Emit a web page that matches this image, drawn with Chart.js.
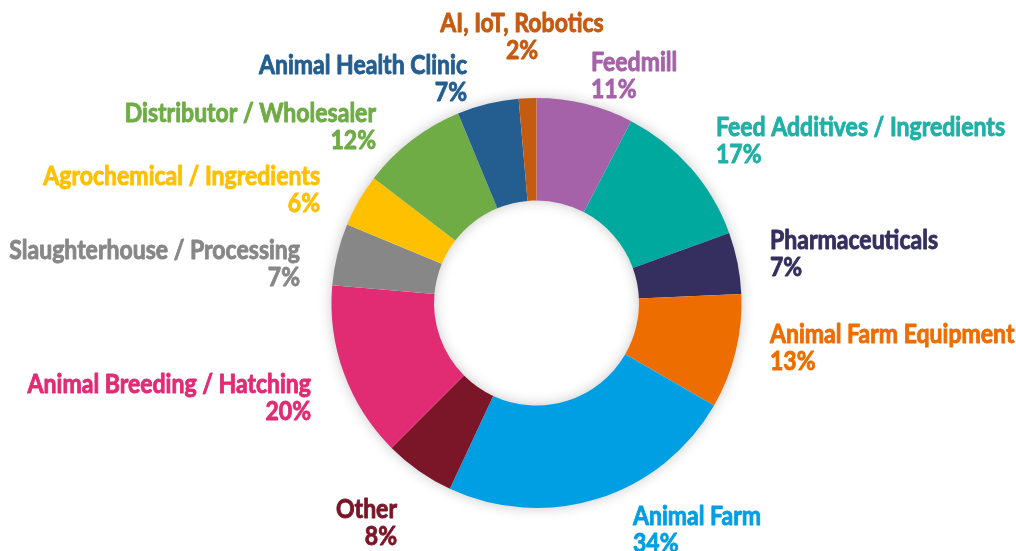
<!DOCTYPE html>
<html>
<head>
<meta charset="utf-8">
<script src="https://cdn.jsdelivr.net/npm/chart.js@4.4.1/dist/chart.umd.min.js"></script>
<style>
  html, body { margin: 0; padding: 0; background: #fff; }
  #wrap { width: 1016px; height: 551px; }
</style>
</head>
<body>
<div id="wrap"><canvas id="donut"></canvas></div>
<script>
// data, clockwise from 12 o'clock
const categories = [
  'Feedmill', 'Feed Additives / Ingredients', 'Pharmaceuticals', 'Animal Farm Equipment',
  'Animal Farm', 'Other', 'Animal Breeding / Hatching', 'Slaughterhouse / Processing',
  'Agrochemical / Ingredients', 'Distributor / Wholesaler', 'Animal Health Clinic', 'AI, IoT, Robotics'
];
const shares = [11, 17, 7, 13, 34, 8, 20, 7, 6, 12, 7, 2];

const sliceColors = ['#a562a8', '#00a99d', '#352f5f', '#ee6d00', '#009fe3', '#7b1528',
                     '#e12b73', '#878787', '#ffc000', '#6fac46', '#245e91', '#c55a11'];
const textColors  = ['#a562a8', '#1fb0a6', '#352f5f', '#ee6d00', '#009fe3', '#7b1528',
                     '#e12b73', '#878787', '#ffc000', '#6fac46', '#245e91', '#c55a11'];

// label anchors relative to the doughnut centre: [dx, dy of first baseline, align]
const labelAnchors = [
  [54.5, -232, 'left'], [179.5, -167, 'left'], [233.5, -54, 'left'], [233.5, 40, 'left'],
  [96.5, 222, 'left'], [-139.5, 215, 'right'], [-225.5, 90, 'right'], [-236.5, -44, 'right'],
  [-216.5, -118, 'right'], [-160.5, -181, 'right'], [-69.5, -229, 'right'], [-14.5, -271, 'center']
];

const FONT = 'bold 26px Lato, "Open Sans", sans-serif';

// soft shadow under the whole ring
const ringShadow = {
  id: 'ringShadow',
  beforeDatasetsDraw(chart) {
    const arc = chart.getDatasetMeta(0).data[0];
    if (!arc) return;
    const { x, y, outerRadius, innerRadius } = arc;
    const ctx = chart.ctx;
    ctx.save();
    ctx.shadowColor = 'rgba(0,0,0,0.25)';
    ctx.shadowBlur = 14;
    ctx.fillStyle = '#fff';
    ctx.beginPath();
    ctx.arc(x, y, outerRadius - 1, 0, Math.PI * 2);
    ctx.arc(x, y, innerRadius + 1, 0, Math.PI * 2, true);
    ctx.fill('evenodd');
    ctx.restore();
  }
};

// labels drawn in a condensed look: the font is squeezed horizontally
// and a thin stroke in the same colour makes it a bit heavier
const outsideLabels = {
  id: 'outsideLabels',
  afterDatasetsDraw(chart) {
    const meta = chart.getDatasetMeta(0);
    const ctx = chart.ctx;
    ctx.save();
    ctx.font = FONT;
    ctx.textBaseline = 'alphabetic';
    ctx.lineJoin = 'round';
    const squeeze = 289 / ctx.measureText(categories[1]).width;
    meta.data.forEach((arc, i) => {
      const [dx, dy, align] = labelAnchors[i];
      const x = arc.x + dx, y = arc.y + dy;
      ctx.save();
      ctx.translate(x, 0);
      ctx.scale(squeeze, 1);
      ctx.fillStyle = textColors[i];
      ctx.strokeStyle = textColors[i];
      ctx.lineWidth = 0.9;
      ctx.textAlign = align;
      [categories[i], shares[i] + '%'].forEach((t, k) => {
        ctx.fillText(t, 0, y + k * 27);
        ctx.strokeText(t, 0, y + k * 27);
      });
      ctx.restore();
    });
    ctx.restore();
  }
};

new Chart(document.getElementById('donut'), {
  type: 'doughnut',
  data: {
    labels: categories,
    datasets: [{
      data: shares,
      backgroundColor: sliceColors,
      borderWidth: 0
    }]
  },
  options: {
    responsive: true,
    maintainAspectRatio: false,
    animation: false,
    cutout: '50%',
    layout: { padding: { top: 98, bottom: 43, left: 331.5, right: 274.5 } },
    plugins: { legend: { display: false }, tooltip: { enabled: false } }
  },
  plugins: [ringShadow, outsideLabels]
});
</script>
</body>
</html>
